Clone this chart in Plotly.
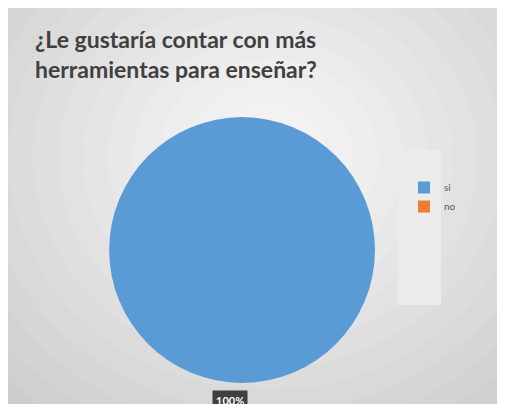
import plotly.graph_objects as go

labels = ["si", "no"]
values = [100, 0]
colors = ["#5B9BD5", "#ED7D31"]
title_lines = ["\u00a0\u00a0\u00bfLe gustar\u00eda contar con m\u00e1s", "herramientas para ense\u00f1ar?"]

W, H = 505, 404

fig = go.Figure()
fig.add_trace(go.Pie(
    labels=labels, values=values,
    marker=dict(colors=colors, line=dict(width=0)),
    sort=False, direction="clockwise", rotation=0,
    textinfo="none", hoverinfo="label+percent",
    domain=dict(x=[0.200, 0.727], y=[0.072, 0.730]),
    showlegend=True,
))

shapes = []
shapes.append(dict(type="rect", xref="paper", yref="paper", x0=0, x1=1, y0=0, y1=1,
                   fillcolor="#cdcdcd", line=dict(width=0), layer="below"))
# radial gradient approximation
grad = ["#d0d0d0", "#d3d3d3", "#d6d6d6", "#d9d9d9", "#dcdcdc", "#dfdfdf",
        "#e2e2e2", "#e5e5e5", "#e8e8e8", "#ebebeb", "#eeeeee", "#f0f0f0", "#f2f2f2"]
cx, cy = 260, 150
for i, c in enumerate(grad):
    rx = 360 - i * 25
    ry = 320 - i * 22
    shapes.append(dict(type="circle", xref="paper", yref="paper",
                       x0=(cx - rx)/W, x1=(cx + rx)/W, y0=(H - cy - ry)/H, y1=(H - cy + ry)/H,
                       fillcolor=c, line=dict(width=0), layer="below"))
# legend column
shapes.append(dict(type="rect", xref="paper", yref="paper", x0=390/W, x1=433/W,
                   y0=(H-297)/H, y1=(H-142)/H,
                   fillcolor="#ebebeb", line=dict(width=0), layer="below"))

pct = round(100 * values[0] / sum(values))
annotations = [dict(text=f"<b>{pct}%</b>", x=222/W, y=(H-392)/H, xref="paper", yref="paper",
                    showarrow=False, font=dict(family="Lato", size=11, color="white"),
                    bgcolor="#3f3f3f", borderpad=3, xanchor="center", yanchor="middle")]

fig.update_layout(
    width=W, height=H,
    margin=dict(l=0, r=0, t=0, b=0),
    paper_bgcolor="#cdcdcd",
    title=dict(text="<br>".join(title_lines), x=27/W, xanchor="left", y=(H-40)/H, yanchor="top",
               font=dict(family="Lato", size=23, color="#404040", weight="bold")),
    legend=dict(x=396/W, y=(H-165)/H, xanchor="left", yanchor="top",
                bgcolor="rgba(0,0,0,0)", font=dict(family="Lato", size=10, color="#595959"),
                itemwidth=30, tracegroupgap=0),
    shapes=shapes,
    annotations=annotations,
)

fig.write_html("out.html")
